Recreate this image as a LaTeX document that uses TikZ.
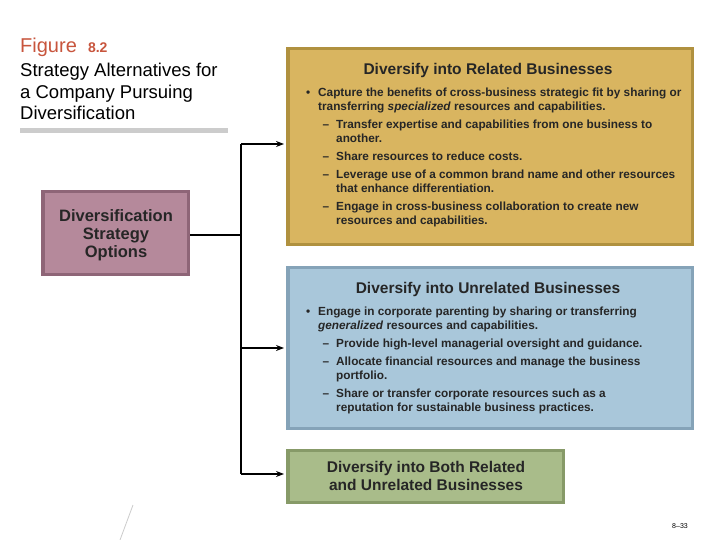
\documentclass[tikz,border=0pt]{standalone}
\usepackage{fontspec}
\setmainfont{Liberation Sans}
\usetikzlibrary{arrows.meta}
\definecolor{gold}{HTML}{D9B560}
\definecolor{goldd}{HTML}{B0913F}
\definecolor{blu}{HTML}{A9C7DA}
\definecolor{blud}{HTML}{85A3B8}
\definecolor{grn}{HTML}{A9BC8A}
\definecolor{grnd}{HTML}{879A68}
\definecolor{pnk}{HTML}{B5899B}
\definecolor{pnkd}{HTML}{8E6577}
\definecolor{figred}{HTML}{C8553D}
\newcommand{\dsh}{\llap{–\hspace{7pt}}}
\newcommand{\bul}{\llap{\textbullet\hspace{8pt}}}
\begin{document}
\begin{tikzpicture}[x=1pt,y=-1pt,
 conn/.style={line width=1.3pt},
 arr/.style={line width=1.3pt,-{Stealth[length=8pt,width=6pt]}},
 head/.style={align=center,font=\fontsize{15.5}{18}\selectfont\bfseries,text=black!85},
 body/.style={anchor=north west,align=left,inner sep=0pt,font=\fontsize{11.8}{14}\selectfont\bfseries,text=black!85}]
\useasboundingbox (0,0) rectangle (720,540);
\fill[white] (0,0) rectangle (720,540);
% title
\node[anchor=west,inner sep=0pt,text=figred] (fig) at (20,47) {\fontsize{20}{20}\selectfont Figure\ \ \fontsize{14}{14}\selectfont\bfseries 8.2};
\node[anchor=north west,inner sep=0pt,align=left,font=\fontsize{18.5}{21.5}\selectfont] (ttl) at (20,63) {Strategy Alternatives for\\a Company Pursuing\\Diversification};
\fill[black!20] (20,128) rectangle (228,133);
% boxes
\fill[goldd] (286,47) rectangle (694,246);
\fill[gold] (290,50) rectangle (691,243);
\fill[blud] (286,266) rectangle (694,430);
\fill[blu] (290,269) rectangle (691,427);
\fill[grnd] (286,449) rectangle (565,504);
\fill[grn] (290,452) rectangle (562,501);
\fill[pnkd] (41,190) rectangle (190,276);
\fill[pnk] (45,193) rectangle (187,273);
\node[head,font=\fontsize{16.5}{18}\selectfont\bfseries] (opt) at (116,235) {Diversification\\Strategy\\Options};
\node[head] (t1) at (488,70) {Diversify into Related Businesses};
\node[head] (t2) at (488,289) {Diversify into Unrelated Businesses};
\node[head] (t3) at (426,476) {Diversify into Both Related\\and Unrelated Businesses};
% bullets gold
\node[body] (b1) at (318,88) {\bul Capture the benefits of cross-business strategic fit by sharing or\\transferring \textit{specialized} resources and capabilities.};
\node[body] (b2) at (336,120) {\dsh Transfer expertise and capabilities from one business to\\another.};
\node[body] (b3) at (336,152) {\dsh Share resources to reduce costs.};
\node[body] (b4) at (336,170) {\dsh Leverage use of a common brand name and other resources\\that enhance differentiation.};
\node[body] (b5) at (336,202) {\dsh Engage in cross-business collaboration to create new\\resources and capabilities.};
% bullets blue
\node[body] (c1) at (318,307) {\bul Engage in corporate parenting by sharing or transferring\\\textit{generalized} resources and capabilities.};
\node[body] (c2) at (336,339) {\dsh Provide high-level managerial oversight and guidance.};
\node[body] (c3) at (336,357) {\dsh Allocate financial resources and manage the business\\portfolio.};
\node[body] (c4) at (336,389) {\dsh Share or transfer corporate resources such as a\\reputation for sustainable business practices.};
% connectors
\coordinate (j) at (241,235);
\coordinate (ja) at (241,144);
\coordinate (jb) at (241,348);
\coordinate (jc) at (241,474);
\draw[conn] (190,235) -- (j);
\draw[conn] (ja) -- (jc);
\draw[arr] (ja) -- (284,144);
\draw[arr] (jb) -- (284,348);
\draw[arr] (jc) -- (284,474);
% misc
\draw[black!20,line width=0.8pt] (133,505) -- (120,540);
\node[font=\fontsize{7}{7}\selectfont] (pg) at (680,526) {8–33};
\end{tikzpicture}
\end{document}
